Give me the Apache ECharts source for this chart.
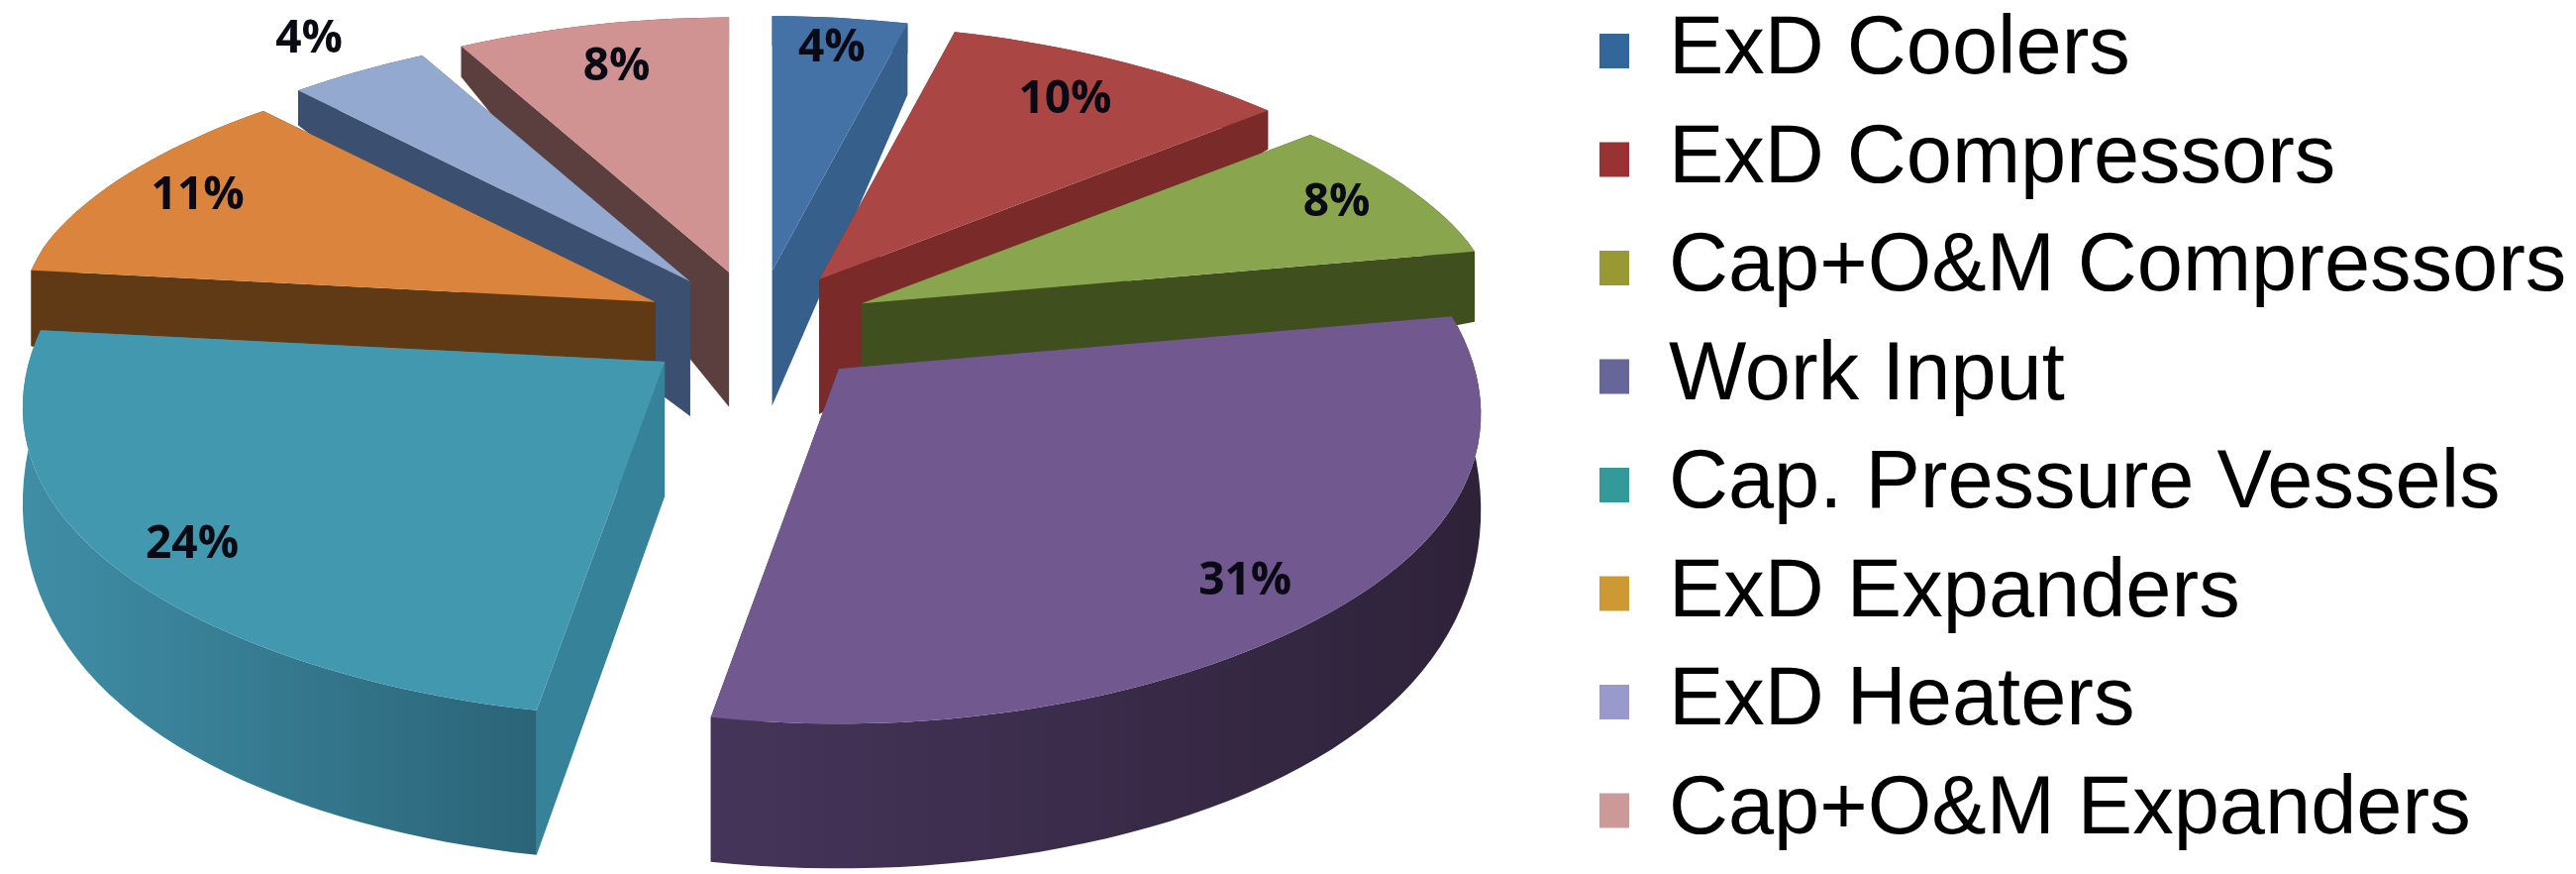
<!DOCTYPE html>
<html>
<head>
<meta charset="utf-8">
<style>html,body{margin:0;padding:0;background:#fff}#c{width:2601px;height:882px}</style>
<script src="https://cdn.jsdelivr.net/npm/echarts@6/dist/echarts.min.js"></script>
</head>
<body>
<div id="c"></div>
<script>
// ---- data ----
const names = ['ExD Coolers','ExD Compressors','Cap+O&M Compressors','Work Input','Cap. Pressure Vessels','ExD Expanders','ExD Heaters','Cap+O&M Expanders'];
const values = [4,10,8,31,24,11,4,8];

// ---- styles ----
const topColors = ['#4472A6','#AA4643','#89A54E','#71588F','#4198AF','#DB843D','#93A9CF','#D19392'];
const cutColors = ['#365F8C','#7A2A28','#3F4F1E','#45355A','#358299','#5F3A14','#3B4F70','#5A3F3E'];
const outerLeft = ['#365F8C','#7A2A28','#3F4F1E','#45355A','#3F8EA6','#5F3A14','#3B4F70','#5A3F3E'];
const outerRight = ['#365F8C','#7A2A28','#3F4F1E','#2E2239','#2B6478','#5F3A14','#3B4F70','#5A3F3E'];
const legendColors = ['#336699','#993333','#999933','#666699','#339999','#CC9933','#9999CC','#CC9999'];
const labelRadius = [.88,.82,.87,.85,.87,.855,1.15,.83];
const drawRank = [0,2,4,7,6,5,3,1];
const cutDepthScale = [2.4,1,1,1,1,1,1,1];

// ---- 3D projection of the exploded pie ----
const CX = 765, CY = 331, EXPLODE = 58;
const rx = v => 644.6 + 72*v - 26.3*v*v;
const ry = v => 294 + 50.6*v + 13.8*v*v;
const yOff = v => ry(v)*v + 22*Math.sin(Math.PI*Math.min(1,Math.max(0,(v+.2)/1.2)));
const outerDepth = v => 88 + 58*Math.sin(v*Math.PI/2);
const APEX_DEPTH = 136;
const total = values.reduce((a,b)=>a+b,0);
const toRad = d => d*Math.PI/180;

function slice(i){
  let before = 0; for(let k=0;k<i;k++) before += values[k];
  return {a0: before/total*360, a1: (before+values[i])/total*360};
}
function apexOf(s){
  const m = toRad((s.a0+s.a1)/2);
  return [CX + 2*EXPLODE*Math.sin(m), CY - EXPLODE*Math.cos(m)];
}
function point(ap, deg, r){
  const u = Math.sin(toRad(deg)), v = -Math.cos(toRad(deg));
  return [ap[0] + r*rx(v)*u, ap[1] + r*yOff(v), v];
}
function down(p, scale){
  return [p[0], p[1]+outerDepth(p[2])*(scale||1)];
}
function renderSlice(i){
  const s = slice(i), ap = apexOf(s);
  const arc = [];
  const n = Math.max(2, Math.ceil((s.a1-s.a0)/2));
  for(let k=0;k<=n;k++) arc.push(point(ap, s.a0+(s.a1-s.a0)*k/n, 1));
  const xy = p => [p[0],p[1]];
  const apB = [ap[0], ap[1]+APEX_DEPTH];
  const first = arc[0], last = arc[arc.length-1];
  const children = [];
  // cut walls
  [first,last].forEach(e=>{
    children.push({type:'polygon',shape:{points:[ap,xy(e),down(e,cutDepthScale[i]),apB]},style:{fill:cutColors[i]},silent:true});
  });
  // outer wall
  const wall = arc.map(xy).concat(arc.slice().reverse().map(p=>down(p)));
  children.push({type:'polygon',shape:{points:wall},silent:true,style:{fill:new echarts.graphic.LinearGradient(0,0,1,0,[{offset:0,color:outerLeft[i]},{offset:1,color:outerRight[i]}])}});
  // top face
  children.push({type:'polygon',shape:{points:[ap].concat(arc.map(xy))},silent:true,style:{fill:topColors[i]}});
  // label
  const lp = point(ap,(s.a0+s.a1)/2,labelRadius[i]);
  children.push({type:'text',silent:true,style:{x:lp[0],y:lp[1],text:values[i]+'%',align:'center',verticalAlign:'middle',fill:'#0a0a14',font:'bold 46px "Open Sans",sans-serif'}});
  return {type:'group',children};
}

const chart = echarts.init(document.getElementById('c'),null,{renderer:'canvas'});
chart.setOption({
  animation:false,
  backgroundColor:'#fff',
  legend:{
    orient:'vertical',left:1610,top:5,
    selectedMode:false,
    itemWidth:30,itemHeight:35,itemGap:26.5,
    textStyle:{fontFamily:'Liberation Sans',fontSize:83,color:'#000',padding:[0,0,0,35]},
    data:names.map((n,i)=>({name:n,icon:'rect',itemStyle:{color:legendColors[i]}}))
  },
  series:names.map((n,i)=>({
    type:'custom',name:n,coordinateSystem:'none',z:2+drawRank[i],
    itemStyle:{color:legendColors[i]},
    data:[[values[i]]],
    renderItem:()=>renderSlice(i)
  }))
});
</script>
</body>
</html>
